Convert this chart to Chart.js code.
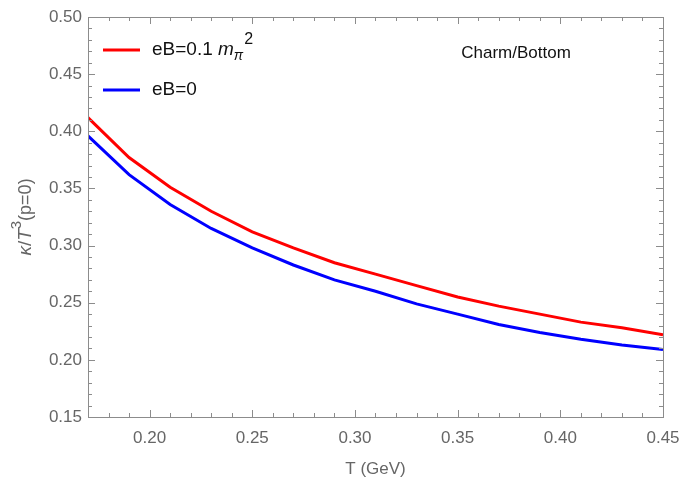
<!DOCTYPE html>
<html>
<head>
<meta charset="utf-8">
<script src="https://cdn.jsdelivr.net/npm/chart.js@4.4.1/dist/chart.umd.min.js"></script>
<style>
  html, body { margin: 0; padding: 0; background: #fff; }
</style>
</head>
<body>
<canvas id="chart" width="680" height="480"></canvas>
<script>
// data (T in GeV, kappa/T^3 at p=0)
const temps = [0.17, 0.19, 0.21, 0.23, 0.25, 0.27, 0.29, 0.31, 0.33, 0.35, 0.37, 0.39, 0.41, 0.43, 0.45];
const kappaEB01 = [0.412, 0.377, 0.351, 0.330, 0.312, 0.298, 0.285, 0.275, 0.265, 0.255, 0.247, 0.240, 0.233, 0.228, 0.222];
const kappaEB0 = [0.396, 0.362, 0.336, 0.315, 0.298, 0.283, 0.270, 0.260, 0.249, 0.240, 0.231, 0.224, 0.218, 0.213, 0.209];
const xTickLabels = [0.20, 0.25, 0.30, 0.35, 0.40, 0.45];
const yTickLabels = [0.15, 0.20, 0.25, 0.30, 0.35, 0.40, 0.45, 0.50];
const seriesLabels = ['eB=0.1 mπ²', 'eB=0'];
const seriesColors = ['#ff0000', '#0000ff'];

const axisGray = '#8c8c8c';
const labelGray = '#666666';
const fontFam = '"Liberation Sans", Arial, sans-serif';

// draw a list of [text, font, dy] pieces left to right, returns total width
function drawPieces(ctx, pieces, x, y, measureOnly) {
    let w = 0;
    pieces.forEach(([txt, font, dy]) => {
        ctx.font = font;
        if (!measureOnly) ctx.fillText(txt, x + w, y + dy);
        w += ctx.measureText(txt).width;
    });
    return w;
}

// Mathematica-like frame with inward ticks on all four sides
const framePlugin = {
    id: 'frame',
    afterDraw(chart) {
        const { ctx, chartArea: a, scales } = chart;
        const xs = scales.x, ys = scales.y;
        ctx.save();
        ctx.strokeStyle = axisGray;
        ctx.lineWidth = 1;
        ctx.strokeRect(a.left + 0.5, a.top + 0.5, a.right - a.left, a.bottom - a.top);
        ctx.beginPath();
        for (let i = 17; i <= 45; i++) {
            const px = Math.round(xs.getPixelForValue(i / 100)) + 0.5;
            const len = i % 5 === 0 ? 7 : 4;
            ctx.moveTo(px, a.bottom); ctx.lineTo(px, a.bottom - len);
            ctx.moveTo(px, a.top); ctx.lineTo(px, a.top + len);
        }
        for (let j = 15; j <= 50; j++) {
            const py = Math.round(ys.getPixelForValue(j / 100)) + 0.5;
            const len = j % 5 === 0 ? 7 : 4;
            ctx.moveTo(a.left, py); ctx.lineTo(a.left + len, py);
            ctx.moveTo(a.right, py); ctx.lineTo(a.right - len, py);
        }
        ctx.stroke();

        // y axis title, rotated, with italic kappa and T
        const yTitle = [
            ['κ', 'italic 19px ' + fontFam, 0],
            ['/', '19px ' + fontFam, 0],
            ['T', 'italic 19px ' + fontFam, 0],
            ['3', '15px ' + fontFam, -9],
            ['(p=0)', '18px ' + fontFam, 0]
        ];
        ctx.fillStyle = labelGray;
        ctx.textBaseline = 'middle';
        ctx.textAlign = 'left';
        const tw = drawPieces(ctx, yTitle, 0, 0, true);
        ctx.save();
        ctx.translate(26, (a.top + a.bottom) / 2);
        ctx.rotate(-Math.PI / 2);
        drawPieces(ctx, yTitle, -tw / 2, 0, false);
        ctx.restore();

        // legend inside the plot
        const rows = [a.top + 33, a.top + 73];
        chart.data.datasets.forEach((ds, k) => {
            const y = rows[k];
            ctx.strokeStyle = ds.borderColor;
            ctx.lineWidth = 3;
            ctx.beginPath();
            ctx.moveTo(a.left + 15, y); ctx.lineTo(a.left + 52, y);
            ctx.stroke();
            ctx.fillStyle = '#111';
            const x = a.left + 64;
            if (k === 0) {
                drawPieces(ctx, [
                    ['eB=0.1 ', '19px ' + fontFam, 0],
                    ['m', 'italic 19px ' + fontFam, 0],
                    ['π', 'italic 14px ' + fontFam, 6],
                    [' ', '4px ' + fontFam, 0],
                    ['2', '16px ' + fontFam, -10]
                ], x, y, false);
            } else {
                ctx.font = '19px ' + fontFam;
                ctx.fillText(ds.label, x, y);
            }
        });

        ctx.font = '17px ' + fontFam;
        ctx.fillStyle = '#111';
        ctx.textAlign = 'center';
        ctx.fillText('Charm/Bottom', a.left + 428, a.top + 36);
        ctx.restore();
    }
};

new Chart(document.getElementById('chart'), {
    type: 'line',
    data: {
        datasets: [
            {
                label: seriesLabels[0],
                data: temps.map((t, i) => ({ x: t, y: kappaEB01[i] })),
                borderColor: seriesColors[0],
                borderWidth: 3,
                pointRadius: 0,
                tension: 0,
                fill: false
            },
            {
                label: seriesLabels[1],
                data: temps.map((t, i) => ({ x: t, y: kappaEB0[i] })),
                borderColor: seriesColors[1],
                borderWidth: 3,
                pointRadius: 0,
                tension: 0,
                fill: false
            }
        ]
    },
    options: {
        responsive: false,
        animation: false,
        devicePixelRatio: 1,
        layout: { padding: { top: 17, right: 17, bottom: 0, left: 0 } },
        plugins: {
            legend: { display: false },
            tooltip: { enabled: false }
        },
        scales: {
            x: {
                type: 'linear',
                min: 0.17,
                max: 0.45,
                grid: { display: false, drawTicks: false },
                border: { display: false },
                afterBuildTicks(scale) {
                    scale.ticks = xTickLabels.map(v => ({ value: v }));
                },
                afterFit(scale) {
                    scale.height = 63;
                    scale.paddingLeft = 0;
                    scale.paddingRight = 0;
                },
                ticks: {
                    color: labelGray,
                    padding: 11,
                    maxRotation: 0,
                    font: { size: 17, family: fontFam },
                    callback: v => v.toFixed(2)
                },
                title: {
                    display: true,
                    text: 'T (GeV)',
                    color: labelGray,
                    font: { size: 17, family: fontFam },
                    padding: { top: 3, bottom: 0 }
                }
            },
            y: {
                type: 'linear',
                min: 0.15,
                max: 0.50,
                grid: { display: false, drawTicks: false },
                border: { display: false },
                afterBuildTicks(scale) {
                    scale.ticks = yTickLabels.map(v => ({ value: v }));
                },
                afterFit(scale) {
                    scale.width = 88;
                    scale.paddingTop = 0;
                    scale.paddingBottom = 0;
                },
                ticks: {
                    color: labelGray,
                    padding: 6,
                    font: { size: 17, family: fontFam },
                    callback: v => v.toFixed(2)
                },
                title: { display: false }
            }
        }
    },
    plugins: [framePlugin]
});
</script>
</body>
</html>
